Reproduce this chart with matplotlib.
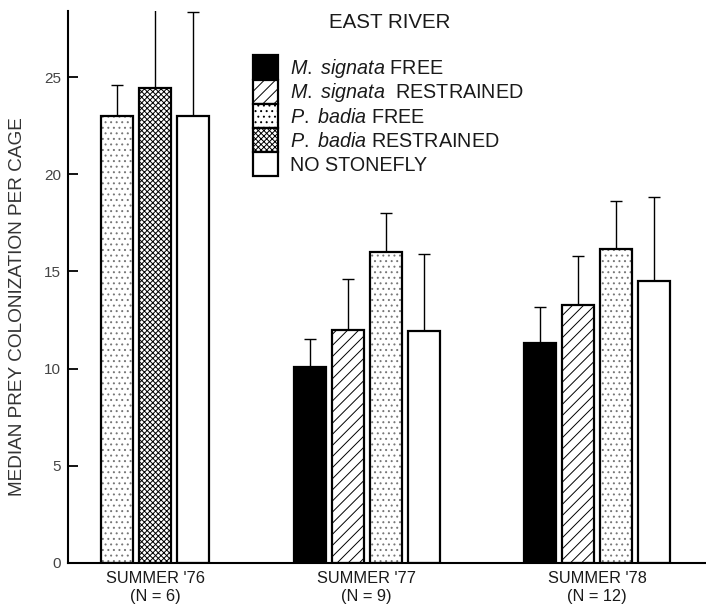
import matplotlib
matplotlib.use('Agg')
import matplotlib.pyplot as plt
import matplotlib.patches as mpatches

# --- data ---
seasons = ["SUMMER '76\n(N = 6)", "SUMMER '77\n(N = 9)", "SUMMER '78\n(N = 12)"]
treatments = [r'$\it{M.\ signata}$ FREE',
              r'$\it{M.\ signata}$  RESTRAINED',
              r'$\it{P.\ badia}$ FREE',
              r'$\it{P.\ badia}$ RESTRAINED',
              'NO STONEFLY']
# medians per season (None = treatment not run that summer)
ms_free = [None, 10.1, 11.3]
ms_restr = [None, 12.0, 13.28]
pb_free = [23.0, 16.0, 16.15]
pb_restr = [24.45, None, None]
no_fly = [23.0, 11.95, 14.5]
# top of the error bar
ms_free_hi = [None, 11.5, 13.15]
ms_restr_hi = [None, 14.6, 15.8]
pb_free_hi = [24.6, 18.0, 18.65]
pb_restr_hi = [28.6, None, None]
no_fly_hi = [28.35, 15.9, 18.85]

medians = [ms_free, ms_restr, pb_free, pb_restr, no_fly]
uppers = [ms_free_hi, ms_restr_hi, pb_free_hi, pb_restr_hi, no_fly_hi]

# --- style ---
plt.rcParams['font.family'] = ['Liberation Sans', 'DejaVu Sans']
plt.rcParams['mathtext.fontset'] = 'custom'
plt.rcParams['mathtext.it'] = 'Liberation Sans:italic'
plt.rcParams['mathtext.rm'] = 'Liberation Sans'
plt.rcParams['hatch.linewidth'] = 0.7
txt_color = '#1a1a1a'

styles = [
    dict(facecolor='black', hatch=None),
    dict(facecolor='white', hatch='///'),
    dict(facecolor='white', hatch='...'),
    dict(facecolor='white', hatch='xxxxxx'),
    dict(facecolor='white', hatch=None),
]
hatch_colors = ['black', 'black', '#777777', 'black', 'black']

fig = plt.figure(figsize=(7.06, 6.07), dpi=100)
W, H = 706, 607
ax = fig.add_axes([68 / W, 44 / H, 638 / W, 552 / H])

group_centers = [2.30, 7.86, 13.92]
step = 1.0
width = 0.84

for g, gc in enumerate(group_centers):
    present = [t for t in range(len(treatments)) if medians[t][g] is not None]
    n = len(present)
    for k, t in enumerate(present):
        x = gc + (k - (n - 1) / 2) * step
        m = medians[t][g]
        hi = uppers[t][g]
        ax.errorbar(x, m, yerr=[[0], [hi - m]], fmt='none', ecolor='black',
                    elinewidth=1.0, capsize=4.5, capthick=1.0, zorder=1)
        # fill + hatch, then a black outline on top
        ax.bar(x, m, width=width, edgecolor=hatch_colors[t], linewidth=0,
               zorder=2, **styles[t])
        ax.bar(x, m, width=width, fill=False, edgecolor='black',
               linewidth=1.6, zorder=3)

ax.set_xlim(0, 638 / 38)
ax.set_ylim(0, 28.4)
ax.set_yticks([0, 5, 10, 15, 20, 25])
ax.set_xticks(group_centers)
ax.set_xticklabels(seasons, fontsize=11.8, color=txt_color, linespacing=1.25)
ax.tick_params(axis='x', length=0, pad=6)
ax.tick_params(axis='y', direction='in', length=7, width=1.3, labelsize=11,
               labelcolor='#444444', pad=5)
for s in ['top', 'right']:
    ax.spines[s].set_visible(False)
for s in ['left', 'bottom']:
    ax.spines[s].set_linewidth(1.5)

fig.text(18 / W, 1 - 307 / H, 'MEDIAN PREY COLONIZATION PER CAGE', rotation=90,
         ha='center', va='center', fontsize=13.7, color='#333333')
fig.text(390 / W, 1 - 22 / H, 'EAST RIVER', ha='center', va='center',
         fontsize=14.8, color=txt_color)

handles = []
for t, st in enumerate(styles):
    handles.append(mpatches.Patch(edgecolor='black', linewidth=1.6, **st))
fs = 14.2
row_pt = 24 * 72 / 100          # wanted patch height, points
hh = (row_pt / fs - 0.245) / 0.65  # undo legend's descent handling
ax.legend(handles, treatments, loc='upper left',
          bbox_to_anchor=(253 / W, 1 - 55 / H), bbox_transform=fig.transFigure,
          frameon=False, borderpad=0, borderaxespad=0, fontsize=fs,
          handlelength=25 * 0.72 / fs, handleheight=hh, labelspacing=0,
          handletextpad=12 * 0.72 / fs, labelcolor=txt_color)

fig.savefig('out.png', dpi=100, facecolor='white')
